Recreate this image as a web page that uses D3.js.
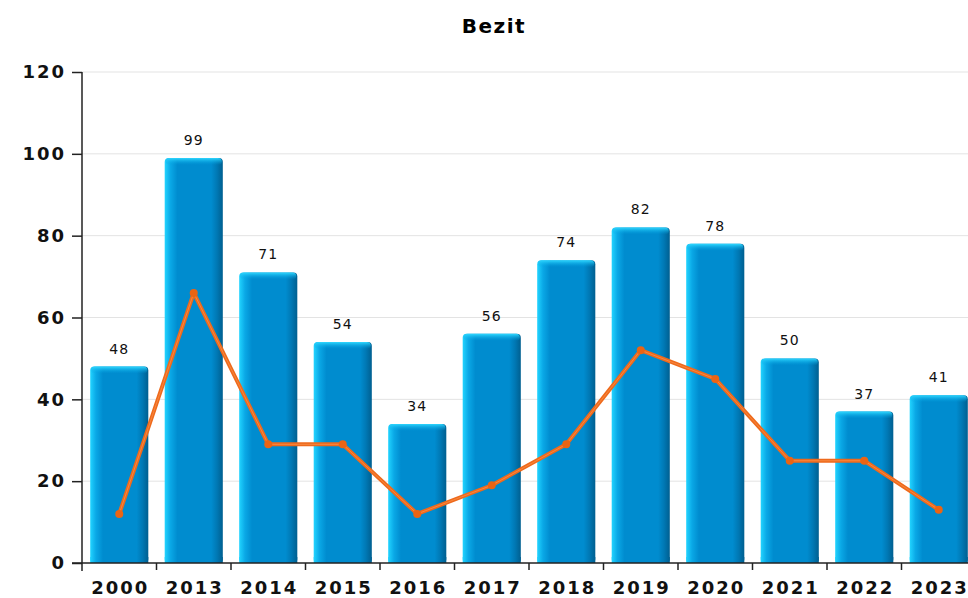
<!DOCTYPE html>
<html>
<head>
<meta charset="utf-8">
<script src="https://cdnjs.cloudflare.com/ajax/libs/d3/7.8.5/d3.min.js"></script>
<style>
  body { margin: 0; background: #fff; overflow: hidden; }
  text { font-family: "DejaVu Sans", sans-serif; }
</style>
</head>
<body>
<div id="chart"></div>
<script>
// data
var years = ["2000","2013","2014","2015","2016","2017","2018","2019","2020","2021","2022","2023"];
var barValues = [48, 99, 71, 54, 34, 56, 74, 82, 78, 50, 37, 41];
var lineValues = [12, 66, 29, 29, 12, 19, 29, 52, 45, 25, 25, 13];
var yTicks = [0, 20, 40, 60, 80, 100, 120];

var width = 968, height = 598;
var margin = {top: 72, right: -8, bottom: 35, left: 82};

var svg = d3.select("#chart").append("svg")
    .attr("width", width)
    .attr("height", height);

var defs = svg.append("defs");
var grad = defs.append("linearGradient").attr("id", "barGrad")
    .attr("x1", "0%").attr("x2", "100%").attr("y1", "0%").attr("y2", "0%");
grad.append("stop").attr("offset", "0%").attr("stop-color", "#22d4ff");
grad.append("stop").attr("offset", "10%").attr("stop-color", "#0aa8e6");
grad.append("stop").attr("offset", "22%").attr("stop-color", "#008ccf");
grad.append("stop").attr("offset", "80%").attr("stop-color", "#008ccf");
grad.append("stop").attr("offset", "90%").attr("stop-color", "#0078b4");
grad.append("stop").attr("offset", "100%").attr("stop-color", "#005f90");

var topGrad = defs.append("linearGradient").attr("id", "topGrad")
    .attr("x1", "0%").attr("x2", "0%").attr("y1", "0%").attr("y2", "100%");
topGrad.append("stop").attr("offset", "0%").attr("stop-color", "#30d8ff");
topGrad.append("stop").attr("offset", "100%").attr("stop-color", "#00a0e0").attr("stop-opacity", 0);

var x = d3.scaleBand()
    .domain(years)
    .range([margin.left, width - margin.right])
    .paddingInner(0.22)
    .paddingOuter(0.11);

var xb = d3.scaleBand()
    .domain(years)
    .range([margin.left, width - margin.right]);

var y = d3.scaleLinear()
    .domain([0, 120])
    .range([height - margin.bottom, margin.top]);

// title
svg.append("text")
    .attr("x", 494).attr("y", 33)
    .attr("text-anchor", "middle")
    .style("font-weight", "bold")
    .style("font-size", "20px")
    .style("letter-spacing", "1.5px")
    .text("Bezit");

// grid
svg.append("g").selectAll("line")
    .data(yTicks.slice(1))
    .enter().append("line")
    .attr("x1", margin.left).attr("x2", width)
    .attr("y1", function(d){ return y(d); })
    .attr("y2", function(d){ return y(d); })
    .attr("stroke", "#e3e3e3")
    .attr("stroke-width", 1);

// bars
var bars = svg.append("g").selectAll("g")
    .data(barValues)
    .enter().append("g");

bars.append("rect")
    .attr("x", function(d, i){ return x(years[i]); })
    .attr("y", function(d){ return y(d); })
    .attr("width", x.bandwidth())
    .attr("height", function(d){ return y(0) - y(d); })
    .attr("rx", 4)
    .attr("fill", "url(#barGrad)");

bars.append("rect")
    .attr("x", function(d, i){ return x(years[i]) + 1; })
    .attr("y", function(d){ return y(d); })
    .attr("width", x.bandwidth() - 2)
    .attr("height", 7)
    .attr("rx", 4)
    .attr("fill", "url(#topGrad)");

// repaint bottom corners square
bars.append("rect")
    .attr("x", function(d, i){ return x(years[i]); })
    .attr("y", y(0) - 6)
    .attr("width", x.bandwidth())
    .attr("height", 6)
    .attr("fill", "url(#barGrad)");

// value labels
bars.append("text")
    .attr("x", function(d, i){ return x(years[i]) + x.bandwidth() / 2; })
    .attr("y", function(d){ return y(d) - 13; })
    .attr("text-anchor", "middle")
    .style("font-size", "14px")
    .style("letter-spacing", "1px")
    .attr("fill", "#111")
    .text(function(d){ return d; });

// line
var line = d3.line()
    .x(function(d, i){ return xb(years[i]) + xb.bandwidth() / 2; })
    .y(function(d){ return y(d); });

svg.append("path")
    .datum(lineValues)
    .attr("d", line)
    .attr("fill", "none")
    .attr("stroke", "#ee6a1c")
    .attr("stroke-width", 4)
    .attr("stroke-linejoin", "round");

svg.append("path")
    .datum(lineValues)
    .attr("d", line)
    .attr("fill", "none")
    .attr("stroke", "#ff9a55")
    .attr("stroke-width", 1)
    .attr("stroke-opacity", 0.6);

svg.append("g").selectAll("circle")
    .data(lineValues)
    .enter().append("circle")
    .attr("cx", function(d, i){ return xb(years[i]) + xb.bandwidth() / 2; })
    .attr("cy", function(d){ return y(d); })
    .attr("r", 4)
    .attr("fill", "#ea6414");

// y axis
var yAxis = svg.append("g")
    .attr("transform", "translate(" + margin.left + ",0)")
    .call(d3.axisLeft(y).tickValues(yTicks).tickSize(10).tickPadding(6));
yAxis.select(".domain").attr("stroke", "#222").attr("stroke-width", 1.5).attr("d", "M0," + (y(0) + 8) + "V" + y(120));
yAxis.selectAll(".tick line").attr("stroke", "#222").attr("stroke-width", 1.5);
yAxis.selectAll("text")
    .style("font-family", "DejaVu Sans, sans-serif")
    .style("font-weight", "bold")
    .style("font-size", "18px")
    .style("letter-spacing", "2px")
    .attr("fill", "#111");

// x axis
var xAxisG = svg.append("g");
xAxisG.append("line")
    .attr("x1", margin.left - 10).attr("x2", width)
    .attr("y1", y(0)).attr("y2", y(0))
    .attr("stroke", "#222").attr("stroke-width", 1.5);
xAxisG.selectAll("line.tk")
    .data(years.slice(1))
    .enter().append("line").attr("class", "tk")
    .attr("x1", function(d){ return xb(d); })
    .attr("x2", function(d){ return xb(d); })
    .attr("y1", y(0)).attr("y2", y(0) + 7)
    .attr("stroke", "#222").attr("stroke-width", 1.5);
xAxisG.selectAll("text")
    .data(years)
    .enter().append("text")
    .attr("x", function(d){ return xb(d) + xb.bandwidth() / 2 + 1; })
    .attr("y", y(0) + 31)
    .attr("text-anchor", "middle")
    .style("font-weight", "bold")
    .style("font-size", "18px")
    .style("letter-spacing", "2px")
    .attr("fill", "#111")
    .text(function(d){ return d; });
</script>
</body>
</html>
